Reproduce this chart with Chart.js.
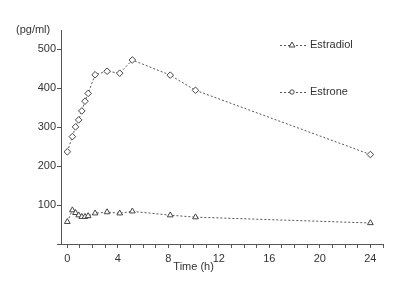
<!DOCTYPE html>
<html>
<head>
<meta charset="utf-8">
<script src="https://cdn.jsdelivr.net/npm/chart.js@4/dist/chart.umd.min.js"></script>
<style>
html,body{margin:0;padding:0;background:#fff;}
#wrap{width:400px;height:289px;position:relative;}
</style>
</head>
<body>
<div id="wrap"><canvas id="c" width="400" height="289"></canvas></div>
<script>
const times = [0, 0.4, 0.65, 0.9, 1.15, 1.4, 1.65, 2.2, 3.15, 4.15, 5.15, 8.15, 10.15, 24];
const estrone = [237, 276, 301, 319, 342, 367, 387, 435, 444, 439, 473, 434, 395, 230];
const estradiol = [57, 87, 80, 74, 70, 70, 72, 79, 82, 79, 84, 74, 69, 54];
const seriesNames = ['Estradiol', 'Estrone'];
const xTickLabels = [0, 4, 8, 12, 16, 20, 24];
const yTickLabels = [100, 200, 300, 400, 500];
const yUnit = '(pg/ml)';
const xTitle = 'Time (h)';

const FONT = '"Liberation Sans", Arial, sans-serif';
const INK = '#333';

function pts(ys){ return times.map((t,i)=>({x:t,y:ys[i]})); }

const overlay = {
  id:'overlay',
  afterDraw(chart){
    const ctx = chart.ctx;
    const xs = chart.scales.x, ys = chart.scales.y;
    ctx.save();
    ctx.fillStyle = INK;
    ctx.font = '11px ' + FONT;
    ctx.textBaseline = 'middle';
    // y unit label
    ctx.textAlign = 'left';
    ctx.fillText(yUnit, 16, ys.getPixelForValue(550));
    // x title
    ctx.textAlign = 'center';
    ctx.fillText(xTitle, xs.getPixelForValue(10.0), 267);
    // legend
    const legendY = [45, 92];
    chart.data.datasets.forEach((ds, i) => {
      const y = legendY[i];
      const x0 = 280, x1 = 308;
      ctx.strokeStyle = ds.borderColor;
      ctx.lineWidth = 1;
      ctx.setLineDash([2,2]);
      ctx.beginPath(); ctx.moveTo(x0, y + 0.5); ctx.lineTo(x1, y + 0.5); ctx.stroke();
      ctx.setLineDash([]);
      ctx.fillStyle = '#fff';
      ctx.strokeStyle = ds.pointBorderColor;
      const cx = 292;
      ctx.beginPath();
      if (ds.pointStyle === 'triangle') {
        ctx.moveTo(cx, y - 3); ctx.lineTo(cx + 3, y + 2); ctx.lineTo(cx - 3, y + 2); ctx.closePath();
      } else {
        ctx.arc(cx, y, 2.2, 0, Math.PI * 2);
      }
      ctx.fill(); ctx.stroke();
      ctx.fillStyle = INK;
      ctx.textAlign = 'left';
      ctx.font = '11px ' + FONT;
      ctx.fillText(ds.label, 310, y);
    });
    ctx.restore();
  }
};

new Chart(document.getElementById('c'), {
  type: 'scatter',
  data: {
    datasets: [
      {
        label: seriesNames[0], data: pts(estradiol), showLine: true,
        borderColor: '#555', borderWidth: 1, borderDash: [2,2],
        pointStyle: 'triangle', pointRadius: 3.3, pointBorderWidth: 1,
        pointBackgroundColor: '#fff', pointBorderColor: '#444'
      },
      {
        label: seriesNames[1], data: pts(estrone), showLine: true,
        borderColor: '#555', borderWidth: 1, borderDash: [2,2],
        pointStyle: 'rectRot', pointRadius: 3.3, pointBorderWidth: 1,
        pointBackgroundColor: '#fff', pointBorderColor: '#444'
      }
    ]
  },
  options: {
    responsive: false,
    animation: false,
    devicePixelRatio: 1,
    layout: { padding: { left: 0, right: 17, top: 30, bottom: 0 } },
    plugins: { legend: { display: false }, tooltip: { enabled: false } },
    scales: {
      x: {
        type: 'linear', min: -0.5, max: 25,
        afterBuildTicks(s){
          const t = [];
          for (let v = 0; v <= 25; v++) t.push({value: v});
          s.ticks = t;
        },
        afterFit(s){ s.height = 45; },
        ticks: {
          color: INK, font: { family: FONT, size: 11 }, padding: 4,
          maxRotation: 0, autoSkip: false,
          callback(v){ return xTickLabels.includes(v) ? String(v) : ''; }
        },
        grid: { drawOnChartArea: false, drawTicks: true, tickLength: 4, color: '#555' },
        border: { display: true, color: '#555', width: 1 }
      },
      y: {
        type: 'linear', min: 0, max: 550,
        afterBuildTicks(s){
          s.ticks = [0].concat(yTickLabels).map(v => ({value: v}));
        },
        afterFit(s){ s.width = 61; },
        ticks: {
          color: INK, font: { family: FONT, size: 11 }, padding: 1,
          callback(v){ return yTickLabels.includes(v) ? String(v) : ''; }
        },
        grid: { drawOnChartArea: false, drawTicks: true, tickLength: 4, color: '#555' },
        border: { display: true, color: '#555', width: 1 }
      }
    }
  },
  plugins: [overlay]
});
</script>
</body>
</html>
